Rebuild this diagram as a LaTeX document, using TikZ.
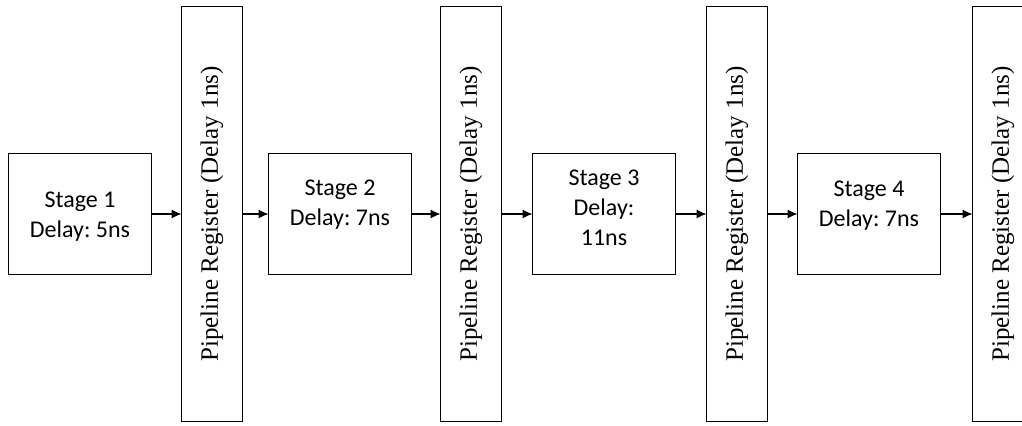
\documentclass[tikz,border=0pt]{standalone}
\usepackage{fontspec}
\setmainfont{Liberation Serif}
\newfontfamily\stagefont{Carlito}
\usetikzlibrary{positioning, arrows.meta}
\frenchspacing

\tikzset{
  stagebox/.style={draw, line width=0.6pt, minimum width=71.5pt, minimum height=60.5pt, inner sep=0pt, outer sep=0pt},
  stagetext/.style={font=\stagefont\fontsize{12}{15}\selectfont, align=center, inner sep=0pt},
  regbox/.style={draw, line width=0.6pt, minimum width=30.5pt, minimum height=207.5pt, inner sep=0pt, outer sep=0pt},
  regtext/.style={font=\fontsize{12.5}{15}\selectfont, rotate=90, inner sep=0pt},
  flow/.style={-{Latex[length=5pt,width=4.5pt]}, line width=0.6pt}
}

\begin{document}
\begin{tikzpicture}[x=0.5pt, y=-0.5pt]
\useasboundingbox (0,0) rectangle (1022,425);

\node[stagebox] (S1) at (80,214) {};
\node[regbox, right=15pt of S1] (R1) {};
\node[stagebox, right=13pt of R1] (S2) {};
\node[regbox, right=14.5pt of S2] (R2) {};
\node[stagebox, right=15.5pt of R2] (S3) {};
\node[regbox, right=15.5pt of S3] (R3) {};
\node[stagebox, right=15pt of R3] (S4) {};
\node[regbox, right=16pt of S4] (R4) {};

% stage labels
\node[stagetext, below=19pt of S1.north] (T1) {Stage 1\\Delay: 5ns};
\node[stagetext, below=13pt of S2.north] (T2) {Stage 2\\Delay: 7ns};
\node[stagetext, below=8pt of S3.north] (T3) {Stage 3\\Delay:\\11ns};
\node[stagetext, below=13.5pt of S4.north] (T4) {Stage 4\\Delay: 7ns};

% register labels
\node[regtext] (L1) at (R1.center) {Pipeline Register (Delay 1ns)};
\node[regtext] (L2) at (R2.center) {Pipeline Register (Delay 1ns)};
\node[regtext] (L3) at (R3.center) {Pipeline Register (Delay 1ns)};
\node[regtext] (L4) at (R4.center) {Pipeline Register (Delay 1ns)};

\draw[flow] (S1) -- (R1);
\draw[flow] (R1) -- (S2);
\draw[flow] (S2) -- (R2);
\draw[flow] (R2) -- (S3);
\draw[flow] (S3) -- (R3);
\draw[flow] (R3) -- (S4);
\draw[flow] (S4) -- (R4);
\end{tikzpicture}
\end{document}
